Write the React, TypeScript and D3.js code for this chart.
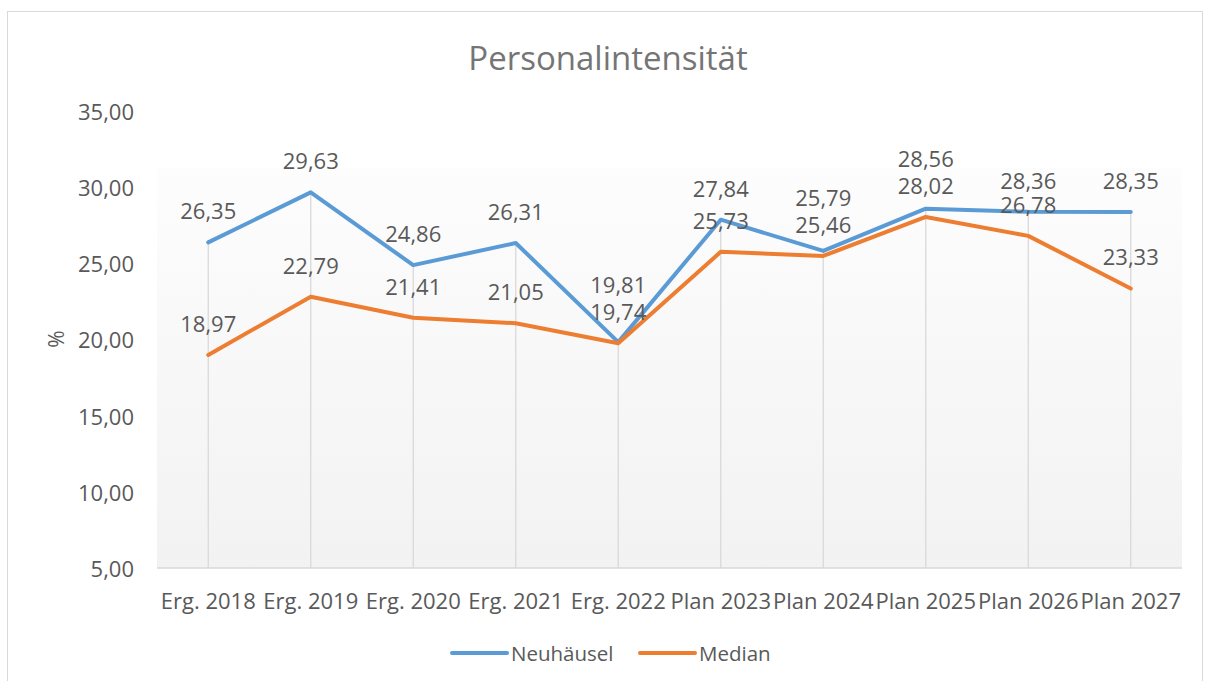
import React from "react";
import * as d3 from "d3";

const categories = ["Erg. 2018", "Erg. 2019", "Erg. 2020", "Erg. 2021", "Erg. 2022", "Plan 2023", "Plan 2024", "Plan 2025", "Plan 2026", "Plan 2027"];
const neuhaeusel = [26.35, 29.63, 24.86, 26.31, 19.81, 27.84, 25.79, 28.56, 28.36, 28.35];
const median = [18.97, 22.79, 21.41, 21.05, 19.74, 25.73, 25.46, 28.02, 26.78, 23.33];
const yTicks = [5, 10, 15, 20, 25, 30, 35];
const seriesNames = ["Neuhäusel", "Median"];
const title = "Personalintensität";

const W = 1209, H = 681;
const plot = { left: 157, right: 1182, top: 110.5, bottom: 568 };
const font = "'Open Sans', 'Noto Sans', sans-serif";
const textColor = "#595959";
const colors = ["#5b9bd5", "#ed7d31"];

const fmt = (v: number) => v.toFixed(2).replace(".", ",");

export default function App() {
  const x = d3.scaleBand<string>().domain(categories).range([plot.left, plot.right]);
  const cx = (c: string) => (x(c) as number) + x.bandwidth() / 2;
  const y = d3.scaleLinear().domain([5, 35]).range([plot.bottom, plot.top]);
  const line = d3.line<number>().x((_, i) => cx(categories[i])).y((v) => y(v));
  const data = [neuhaeusel, median];

  // label positions: above the point; Neuhäusel label pushed up when colliding with Median label
  const medLabelY = median.map((v) => y(v) - 32);
  const neuLabelY = neuhaeusel.map((v, i) => {
    const d = y(v) - 32;
    return Math.abs(d - medLabelY[i]) < 20 ? medLabelY[i] - 27 : d;
  });
  const labelYs = [neuLabelY, medLabelY];

  const legendX = [452, 640];

  return (
    <svg width={W} height={H} style={{ position: "absolute", left: 0, top: 0, display: "block" }}>
      <defs>
        <linearGradient id="bg" x1="0" y1="0" x2="0" y2="1">
          <stop offset="0" stopColor="#fdfdfd" />
          <stop offset="1" stopColor="#f2f2f2" />
        </linearGradient>
      </defs>
      <rect x={0} y={0} width={W} height={H} fill="#fff" />
      <rect x={7.5} y={11.5} width={1195} height={680} fill="#fff" stroke="#d9d9d9" strokeWidth={1} />
      <text x={608} y={57} textAnchor="middle" dominantBaseline="central" fontFamily={font} fontSize={33} fill="#757575">{title}</text>
      <rect x={plot.left} y={168} width={plot.right - plot.left} height={plot.bottom - 168} fill="url(#bg)" />
      {categories.map((c, i) => (
        <line key={c} x1={cx(c)} x2={cx(c)} y1={y(Math.max(neuhaeusel[i], median[i]))} y2={plot.bottom} stroke="#d9d9d9" strokeWidth={1.3} />
      ))}
      <line x1={plot.left} x2={plot.right} y1={plot.bottom} y2={plot.bottom} stroke="#d9d9d9" strokeWidth={1.3} />
      {yTicks.map((t) => (
        <text key={t} x={134} y={y(t)} textAnchor="end" dominantBaseline="central" fontFamily={font} fontSize={22} fill={textColor}>{fmt(t)}</text>
      ))}
      <text transform={`translate(56,339) rotate(-90)`} textAnchor="middle" dominantBaseline="central" fontFamily={font} fontSize={21} fill={textColor}>%</text>
      {categories.map((c) => (
        <text key={c} x={cx(c)} y={600} textAnchor="middle" dominantBaseline="central" fontFamily={font} fontSize={22} fill={textColor}>{c}</text>
      ))}
      {data.map((s, k) => (
        <path key={k} d={line(s) as string} fill="none" stroke={colors[k]} strokeWidth={4} strokeLinejoin="round" strokeLinecap="round" />
      ))}
      {data.map((s, k) =>
        s.map((v, i) => (
          <text key={`${k}-${i}`} x={cx(categories[i])} y={labelYs[k][i]} textAnchor="middle" dominantBaseline="central" fontFamily={font} fontSize={22} fill={textColor}>{fmt(v)}</text>
        ))
      )}
      {seriesNames.map((n, k) => {
        const lx = legendX[k];
        return (
          <g key={n}>
            <line x1={lx} x2={lx + 55} y1={653} y2={653} stroke={colors[k]} strokeWidth={4} strokeLinecap="round" />
            <text x={lx + 59} y={653} dominantBaseline="central" fontFamily={font} fontSize={20.5} fill={textColor}>{n}</text>
          </g>
        );
      })}
    </svg>
  );
}
